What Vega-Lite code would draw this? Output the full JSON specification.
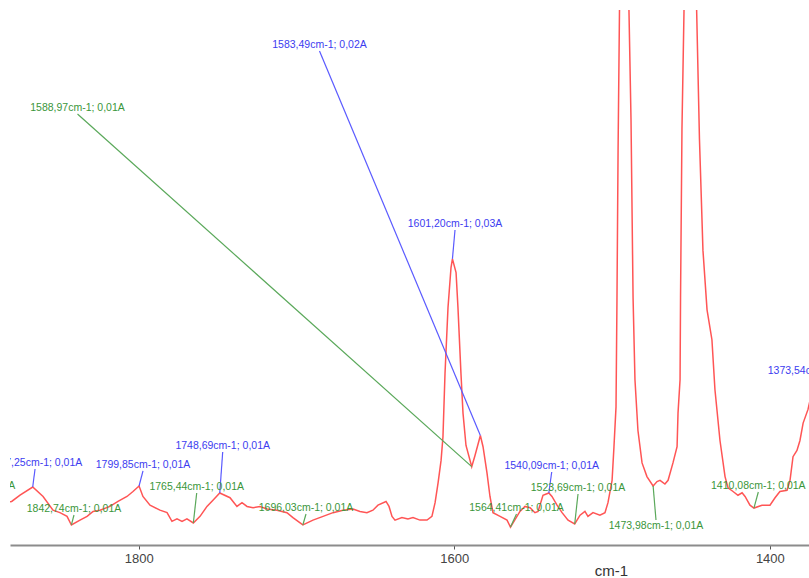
{
  "$schema": "https://vega.github.io/schema/vega-lite/v6.json",
  "width": 799,
  "height": 535,
  "autosize": {"type": "none"},
  "padding": {"left": 10, "top": 10, "right": 0, "bottom": 33},
  "background": "white",
  "config": {"view": {"stroke": null}},
  "datasets": {
    "spectrum": [
      {"w": 1926.0, "a": 0.0102}, {"w": 1910.2, "a": 0.0089}, {"w": 1894.3, "a": 0.0101},
      {"w": 1880.6, "a": 0.0105}, {"w": 1875.3, "a": 0.0110}, {"w": 1867.25, "a": 0.01166},
      {"w": 1860.7, "a": 0.0109}, {"w": 1854.4, "a": 0.0098}, {"w": 1850.0, "a": 0.0096},
      {"w": 1845.5, "a": 0.0093}, {"w": 1842.74, "a": 0.00861}, {"w": 1837.3, "a": 0.0090},
      {"w": 1832.8, "a": 0.0093}, {"w": 1829.0, "a": 0.0097}, {"w": 1824.6, "a": 0.0098},
      {"w": 1818.3, "a": 0.0101}, {"w": 1813.2, "a": 0.0105}, {"w": 1807.5, "a": 0.0109},
      {"w": 1803.7, "a": 0.0113}, {"w": 1799.85, "a": 0.01174}, {"w": 1797.4, "a": 0.0109},
      {"w": 1792.9, "a": 0.0102}, {"w": 1786.6, "a": 0.0098}, {"w": 1782.1, "a": 0.0096},
      {"w": 1779.0, "a": 0.0089}, {"w": 1775.8, "a": 0.0091}, {"w": 1772.6, "a": 0.0089},
      {"w": 1769.5, "a": 0.0091}, {"w": 1765.44, "a": 0.00877}, {"w": 1761.2, "a": 0.0093},
      {"w": 1756.8, "a": 0.0101}, {"w": 1753.0, "a": 0.0106}, {"w": 1748.69, "a": 0.01118},
      {"w": 1742.2, "a": 0.0108}, {"w": 1737.8, "a": 0.0101}, {"w": 1734.6, "a": 0.0104},
      {"w": 1731.4, "a": 0.0101}, {"w": 1727.6, "a": 0.0100}, {"w": 1723.2, "a": 0.0101},
      {"w": 1718.7, "a": 0.0099}, {"w": 1712.4, "a": 0.0098}, {"w": 1706.1, "a": 0.0096},
      {"w": 1702.3, "a": 0.0092}, {"w": 1696.03, "a": 0.00861}, {"w": 1689.6, "a": 0.0090},
      {"w": 1683.2, "a": 0.0093}, {"w": 1676.9, "a": 0.0096}, {"w": 1670.6, "a": 0.0098},
      {"w": 1664.2, "a": 0.0099}, {"w": 1659.8, "a": 0.0097}, {"w": 1655.4, "a": 0.0096},
      {"w": 1651.6, "a": 0.0098}, {"w": 1648.4, "a": 0.0102}, {"w": 1643.3, "a": 0.0105},
      {"w": 1641.4, "a": 0.0101}, {"w": 1639.5, "a": 0.0093}, {"w": 1637.6, "a": 0.0090},
      {"w": 1633.2, "a": 0.0092}, {"w": 1629.4, "a": 0.0091}, {"w": 1626.2, "a": 0.0092},
      {"w": 1621.8, "a": 0.0090}, {"w": 1617.3, "a": 0.0090}, {"w": 1614.2, "a": 0.0093},
      {"w": 1612.2, "a": 0.0104}, {"w": 1610.3, "a": 0.0120}, {"w": 1608.4, "a": 0.0138},
      {"w": 1607.2, "a": 0.0157}, {"w": 1605.9, "a": 0.0208}, {"w": 1604.0, "a": 0.0261},
      {"w": 1602.1, "a": 0.0293}, {"w": 1601.20, "a": 0.0300}, {"w": 1598.9, "a": 0.0289},
      {"w": 1597.7, "a": 0.0261}, {"w": 1595.8, "a": 0.0208}, {"w": 1594.5, "a": 0.0176},
      {"w": 1592.6, "a": 0.0150}, {"w": 1588.97, "a": 0.0133}, {"w": 1586.9, "a": 0.0142},
      {"w": 1583.49, "a": 0.0158}, {"w": 1581.8, "a": 0.0149}, {"w": 1579.3, "a": 0.0128},
      {"w": 1577.4, "a": 0.0109}, {"w": 1575.5, "a": 0.0096}, {"w": 1571.0, "a": 0.0093},
      {"w": 1566.6, "a": 0.0090}, {"w": 1564.41, "a": 0.00844}, {"w": 1560.3, "a": 0.0093},
      {"w": 1558.4, "a": 0.0097}, {"w": 1555.2, "a": 0.0101}, {"w": 1552.0, "a": 0.0100},
      {"w": 1548.9, "a": 0.0096}, {"w": 1546.9, "a": 0.0097}, {"w": 1543.8, "a": 0.0110},
      {"w": 1540.09, "a": 0.01118}, {"w": 1538.1, "a": 0.0109}, {"w": 1534.9, "a": 0.0102},
      {"w": 1531.7, "a": 0.0096}, {"w": 1527.9, "a": 0.0090}, {"w": 1523.69, "a": 0.00869},
      {"w": 1520.3, "a": 0.0094}, {"w": 1517.2, "a": 0.0097}, {"w": 1515.3, "a": 0.0093},
      {"w": 1512.1, "a": 0.0096}, {"w": 1507.7, "a": 0.0094}, {"w": 1504.5, "a": 0.0096},
      {"w": 1502.6, "a": 0.0104}, {"w": 1500.0, "a": 0.0122}, {"w": 1498.8, "a": 0.0149},
      {"w": 1497.5, "a": 0.0181}, {"w": 1496.9, "a": 0.0267}, {"w": 1496.2, "a": 0.0387},
      {"w": 1495.3, "a": 0.0500}, {"w": 1492.1, "a": 0.0950}, {"w": 1489.3, "a": 0.0500},
      {"w": 1488.0, "a": 0.0412}, {"w": 1486.7, "a": 0.0269}, {"w": 1485.5, "a": 0.0203},
      {"w": 1483.6, "a": 0.0162}, {"w": 1481.0, "a": 0.0136}, {"w": 1477.9, "a": 0.0125},
      {"w": 1473.98, "a": 0.01174}, {"w": 1471.5, "a": 0.0121}, {"w": 1469.6, "a": 0.0122},
      {"w": 1466.5, "a": 0.0119}, {"w": 1464.5, "a": 0.0122}, {"w": 1461.4, "a": 0.0136},
      {"w": 1458.8, "a": 0.0149}, {"w": 1458.2, "a": 0.0176}, {"w": 1456.9, "a": 0.0203},
      {"w": 1456.6, "a": 0.0269}, {"w": 1455.7, "a": 0.0404}, {"w": 1454.4, "a": 0.0500},
      {"w": 1450.4, "a": 0.0950}, {"w": 1446.4, "a": 0.0500}, {"w": 1444.6, "a": 0.0396},
      {"w": 1442.4, "a": 0.0307}, {"w": 1439.8, "a": 0.0259}, {"w": 1436.7, "a": 0.0235},
      {"w": 1434.8, "a": 0.0195}, {"w": 1431.6, "a": 0.0154}, {"w": 1428.4, "a": 0.0125},
      {"w": 1426.5, "a": 0.0116}, {"w": 1423.3, "a": 0.0113}, {"w": 1420.2, "a": 0.0110},
      {"w": 1417.6, "a": 0.0112}, {"w": 1415.7, "a": 0.0109}, {"w": 1412.6, "a": 0.0102},
      {"w": 1410.08, "a": 0.00997}, {"w": 1405.0, "a": 0.0102}, {"w": 1399.9, "a": 0.0102},
      {"w": 1396.7, "a": 0.0108}, {"w": 1393.6, "a": 0.0113}, {"w": 1389.1, "a": 0.0114},
      {"w": 1387.2, "a": 0.0122}, {"w": 1385.3, "a": 0.0141}, {"w": 1382.8, "a": 0.0146},
      {"w": 1380.9, "a": 0.0154}, {"w": 1378.9, "a": 0.0168}, {"w": 1375.8, "a": 0.0179},
      {"w": 1373.54, "a": 0.0192}, {"w": 1368.0, "a": 0.0160}
    ],
    "marks": [
      {"kind": "valley", "w": 1910.2, "a": 0.0089, "lw": 1908.29, "la": 0.01126, "label": "1910,20cm-1; 0,01A"},
      {"kind": "peak", "w": 1867.25, "a": 0.01166, "lw": 1865.8, "la": 0.01311, "label": "1867,25cm-1; 0,01A"},
      {"kind": "valley", "w": 1842.74, "a": 0.00861, "lw": 1841.09, "la": 0.00941, "label": "1842,74cm-1; 0,01A"},
      {"kind": "peak", "w": 1799.85, "a": 0.01174, "lw": 1797.35, "la": 0.01295, "label": "1799,85cm-1; 0,01A"},
      {"kind": "valley", "w": 1765.44, "a": 0.00877, "lw": 1763.31, "la": 0.01118, "label": "1765,44cm-1; 0,01A"},
      {"kind": "peak", "w": 1748.69, "a": 0.01118, "lw": 1746.83, "la": 0.01447, "label": "1748,69cm-1; 0,01A"},
      {"kind": "valley", "w": 1696.03, "a": 0.00861, "lw": 1694.02, "la": 0.00949, "label": "1696,03cm-1; 0,01A"},
      {"kind": "peak", "w": 1601.20, "a": 0.0300, "lw": 1599.57, "la": 0.03232, "label": "1601,20cm-1; 0,03A"},
      {"kind": "valley", "w": 1588.97, "a": 0.0133, "lw": 1838.87, "la": 0.04164, "label": "1588,97cm-1; 0,01A"},
      {"kind": "peak", "w": 1583.49, "a": 0.0158, "lw": 1685.47, "la": 0.0467, "label": "1583,49cm-1; 0,02A"},
      {"kind": "valley", "w": 1564.41, "a": 0.00844, "lw": 1560.58, "la": 0.00949, "label": "1564,41cm-1; 0,01A"},
      {"kind": "peak", "w": 1540.09, "a": 0.01118, "lw": 1538.27, "la": 0.01287, "label": "1540,09cm-1; 0,01A"},
      {"kind": "valley", "w": 1523.69, "a": 0.00869, "lw": 1521.6, "la": 0.0111, "label": "1523,69cm-1; 0,01A"},
      {"kind": "valley", "w": 1473.98, "a": 0.01174, "lw": 1472.16, "la": 0.00901, "label": "1473,98cm-1; 0,01A"},
      {"kind": "valley", "w": 1410.08, "a": 0.00997, "lw": 1407.3, "la": 0.01126, "label": "1410,08cm-1; 0,01A"},
      {"kind": "peak", "w": 1373.54, "a": 0.0192, "lw": 1371.36, "la": 0.0205, "label": "1373,54cm-1; 0,02A"}
    ]
  },
  "encoding": {
    "x": {
      "field": "w",
      "type": "quantitative",
      "scale": {"domain": [1375.17, 1881.66], "reverse": true, "nice": false, "zero": false},
      "axis": {
        "values": [1400, 1600, 1800],
        "format": "d",
        "grid": false,
        "title": "cm-1",
        "domainColor": "#8c8c8c",
        "domainWidth": 2,
        "tickColor": "#555555",
        "tickSize": 4,
        "labelFont": "Liberation Sans",
        "labelFontSize": 13,
        "labelColor": "#444444",
        "labelPadding": 3,
        "titleFont": "Liberation Sans",
        "titleFontSize": 15,
        "titleFontWeight": "normal",
        "titleColor": "#333333",
        "titleX": 601,
        "titleY": 30,
        "titleAlign": "center",
        "titleBaseline": "alphabetic"
      }
    },
    "y": {
      "field": "a",
      "type": "quantitative",
      "scale": {"domain": [0.007, 0.05], "nice": false, "zero": false},
      "axis": null
    }
  },
  "layer": [
    {
      "data": {"name": "spectrum"},
      "mark": {"type": "line", "color": "#ff5555", "strokeWidth": 1.5, "clip": true}
    },
    {
      "data": {"name": "marks"},
      "mark": {"type": "rule", "strokeWidth": 1.2, "clip": true},
      "encoding": {
        "x2": {"field": "lw"},
        "y2": {"field": "la"},
        "color": {"condition": {"test": "datum.kind === 'peak'", "value": "#5a5aff"}, "value": "#5aa85a"}
      }
    },
    {
      "data": {"name": "marks"},
      "transform": [{"filter": "datum.la >= datum.a"}],
      "mark": {"type": "text", "font": "Liberation Sans", "fontSize": 10.5, "baseline": "bottom", "align": "center", "dy": -1, "clip": true},
      "encoding": {
        "x": {"field": "lw", "type": "quantitative"},
        "y": {"field": "la", "type": "quantitative"},
        "text": {"field": "label"},
        "color": {"condition": {"test": "datum.kind === 'peak'", "value": "#3c3cf0"}, "value": "#3a963a"}
      }
    },
    {
      "data": {"name": "marks"},
      "transform": [{"filter": "datum.la < datum.a"}],
      "mark": {"type": "text", "font": "Liberation Sans", "fontSize": 10.5, "baseline": "top", "align": "center", "dy": 1, "clip": true},
      "encoding": {
        "x": {"field": "lw", "type": "quantitative"},
        "y": {"field": "la", "type": "quantitative"},
        "text": {"field": "label"},
        "color": {"condition": {"test": "datum.kind === 'peak'", "value": "#3c3cf0"}, "value": "#3a963a"}
      }
    }
  ]
}
